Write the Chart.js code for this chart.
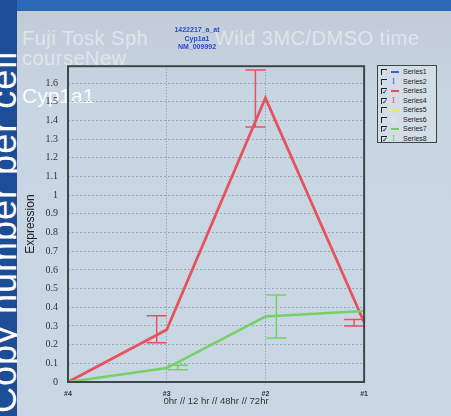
<!DOCTYPE html>
<html>
<head>
<meta charset="utf-8">
<script src="https://cdn.jsdelivr.net/npm/chart.js@4.4.1/dist/chart.umd.min.js"></script>
<style>
  html, body { margin: 0; padding: 0; }
  body {
    width: 451px; height: 416px; overflow: hidden; position: relative;
    background: #2a69b8;
    font-family: Arial, 'Liberation Sans', sans-serif;
  }
  #strip {
    position: absolute; left: 0; top: 0; width: 17px; height: 416px;
    background: #1c4d96; overflow: hidden;
  }
  #strip span {
    position: absolute; left: -14px; top: 413px;
    font-size: 36px; line-height: 36px; letter-spacing: 1px;
    color: #fff; white-space: nowrap;
    transform-origin: left top; transform: rotate(-90deg);
  }
  #panel {
    position: absolute; left: 17px; top: 11px; right: 0; bottom: 0;
    background: linear-gradient(#c1ccd7, #c8d5e2 22%, #c9d7e5);
  }
  #bigTitle {
    position: absolute; left: 22px; top: 28px;
    font-size: 20px; line-height: 20px; letter-spacing: 0.5px;
    color: rgba(255, 255, 255, 0.48); white-space: nowrap;
  }
  #gene {
    position: absolute; left: 22px; top: 84px;
    font-size: 21px; line-height: 24px; color: rgba(255, 255, 255, 0.93);
  }
  #chartBox { position: absolute; left: 20px; top: 20px; width: 356px; height: 396px; }
  #legend {
    position: absolute; left: 377px; top: 65px; width: 60px; height: 78px;
    border: 1px solid #3b4649; background: #d3dde7; box-sizing: border-box;
    padding-top: 1px;
  }
  .row { position: relative; height: 9.5px; font-size: 7px; line-height: 9.5px; color: #222; }
  .box {
    position: absolute; left: 3px; top: 2px; width: 5px; height: 5px;
    border-left: 1px solid #222; border-top: 1px solid #222;
    font-size: 7px; line-height: 5px; text-align: center; color: #111;
  }
  .swatch { position: absolute; left: 13px; top: 4px; width: 8px; height: 2px; }
  .bar { position: absolute; left: 14px; top: 0; font-family: 'Liberation Serif', serif; font-size: 9px; }
  .name { position: absolute; left: 25px; top: 0; }
</style>
</head>
<body>
<div id="strip"><span>Copy number per cell</span></div>
<div id="panel"></div>
<div id="bigTitle">Fuji Tosk Sph&nbsp;&nbsp;&nbsp;&nbsp;&nbsp;&nbsp;&nbsp;&nbsp;&nbsp;&nbsp;&nbsp;Wild 3MC/DMSO time<br>courseNew</div>
<div id="gene">Cyp1a1</div>
<div id="chartBox"><canvas id="chart" width="356" height="396"></canvas></div>
<div id="legend"></div>

<script>
// categories along the x axis
const xLabels = ['#4', '#3', '#2', '#1'];
const yTickLabels = ['0', '0.1', '0.2', '0.3', '0.4', '0.5', '0.6', '0.7', '0.8',
  '0.9', '1', '1.1', '1.2', '1.3', '1.4', '1.5', '1.6'];
const subtitleLines = ['1422217_a_at', 'Cyp1a1', 'NM_009992'];
const xTitle = '0hr // 12 hr // 48hr // 72hr';

// Series3 (red line) and Series4 (its error bars)
const series3 = [0, 0.28, 1.52, 0.32];
const series4Low = [0, 0.21, 1.365, 0.30];
const series4High = [0, 0.355, 1.67, 0.335];

// Series7 (green line) and Series8 (its error bars)
const series7 = [0, 0.075, 0.35, 0.38];
const series8Low = [0, 0.065, 0.235, 0.37];
const series8High = [0, 0.09, 0.465, 0.40];

// legend entries
const legendNames = ['Series1', 'Series2', 'Series3', 'Series4', 'Series5', 'Series6', 'Series7', 'Series8'];
const legendChecked = [false, false, true, true, false, false, true, true];
const legendColors = ['#3b63d8', '#3b63d8', '#e5505a', '#e5505a', '#f2e64a', '#f3efb0', '#74cf62', '#74cf62'];

const RED = '#e6535c';
const GREEN = '#76d064';
const CAP = 10;

// build the legend
const legendEl = document.getElementById('legend');
legendNames.forEach((name, i) => {
  const row = document.createElement('div');
  row.className = 'row';
  const isBar = i % 2 === 1;
  row.innerHTML =
    `<span class="box">${legendChecked[i] ? '✓' : ''}</span>` +
    (isBar
      ? `<span class="bar" style="color:${legendColors[i]}">I</span>`
      : `<span class="swatch" style="background:${legendColors[i]}"></span>`) +
    `<span class="name">${name}</span>`;
  legendEl.appendChild(row);
});

// error bars drawn through the chart scales, shifted a little off the point
const errorSets = [
  { low: series4Low, high: series4High, color: RED, shift: -10 },
  { low: series8Low, high: series8High, color: GREEN, shift: 11 }
];

const errorBarPlugin = {
  id: 'errorBars',
  afterDatasetsDraw(chart) {
    const { ctx, chartArea, scales: { x, y } } = chart;
    ctx.save();
    ctx.beginPath();
    ctx.rect(chartArea.left, chartArea.top, chartArea.width, chartArea.height);
    ctx.clip();
    ctx.lineWidth = 1.5;
    errorSets.forEach(set => {
      ctx.strokeStyle = set.color;
      set.low.forEach((lo, i) => {
        const px = x.getPixelForValue(i) + set.shift;
        const yLo = y.getPixelForValue(lo);
        const yHi = y.getPixelForValue(set.high[i]);
        ctx.beginPath();
        ctx.moveTo(px, yLo); ctx.lineTo(px, yHi);
        ctx.moveTo(px - CAP, yLo); ctx.lineTo(px + CAP, yLo);
        ctx.moveTo(px - CAP, yHi); ctx.lineTo(px + CAP, yHi);
        ctx.stroke();
      });
    });
    ctx.restore();

    // dark frame round the plot area
    ctx.save();
    ctx.strokeStyle = '#3b4749';
    ctx.lineWidth = 2;
    ctx.strokeRect(chartArea.left, chartArea.top, chartArea.width, chartArea.height);
    ctx.restore();
  }
};

new Chart(document.getElementById('chart'), {
  type: 'line',
  data: {
    labels: xLabels,
    datasets: [
      { label: 'Series7', data: series7, borderColor: GREEN, borderWidth: 2.5, pointRadius: 0, tension: 0 },
      { label: 'Series3', data: series3, borderColor: RED, borderWidth: 2.8, pointRadius: 0, tension: 0 }
    ]
  },
  options: {
    responsive: false,
    animation: false,
    layout: { padding: { left: 0, right: 2, top: 0, bottom: 0 } },
    plugins: {
      legend: { display: false },
      tooltip: { enabled: false },
      title: {
        display: true,
        text: subtitleLines,
        color: '#2b48c8',
        font: { size: 7, weight: 'bold', family: 'Arial' },
        padding: { top: 6, bottom: 15 }
      }
    },
    scales: {
      x: {
        type: 'category',
        offset: false,
        border: { display: false, dash: [1, 2] },
        grid: { color: '#7e90b4', drawTicks: false },
        ticks: { color: '#333', font: { size: 7, weight: 'bold', family: 'Arial' }, padding: 8, maxRotation: 0 },
        title: {
          display: true, text: xTitle, color: '#333',
          font: { size: 9.5, family: 'Arial' }, padding: { top: 0, bottom: 9 }
        },
        afterFit(scale) { scale.height = 34; }
      },
      y: {
        min: 0,
        max: 1.69,
        border: { display: false, dash: [2, 2] },
        grid: { color: 'rgba(125, 135, 145, 0.6)', drawTicks: false },
        ticks: {
          stepSize: 0.1,
          includeBounds: false,
          color: '#333',
          font: { size: 10, family: 'Liberation Serif' },
          padding: 10,
          callback: (v, i) => yTickLabels[i]
        },
        title: {
          display: true, text: 'Expression', color: '#222',
          font: { size: 12, family: 'Arial' }, padding: { top: 3, bottom: 0 }
        },
        afterFit(scale) { scale.width = 48; }
      }
    }
  },
  plugins: [errorBarPlugin]
});
</script>
</body>
</html>
